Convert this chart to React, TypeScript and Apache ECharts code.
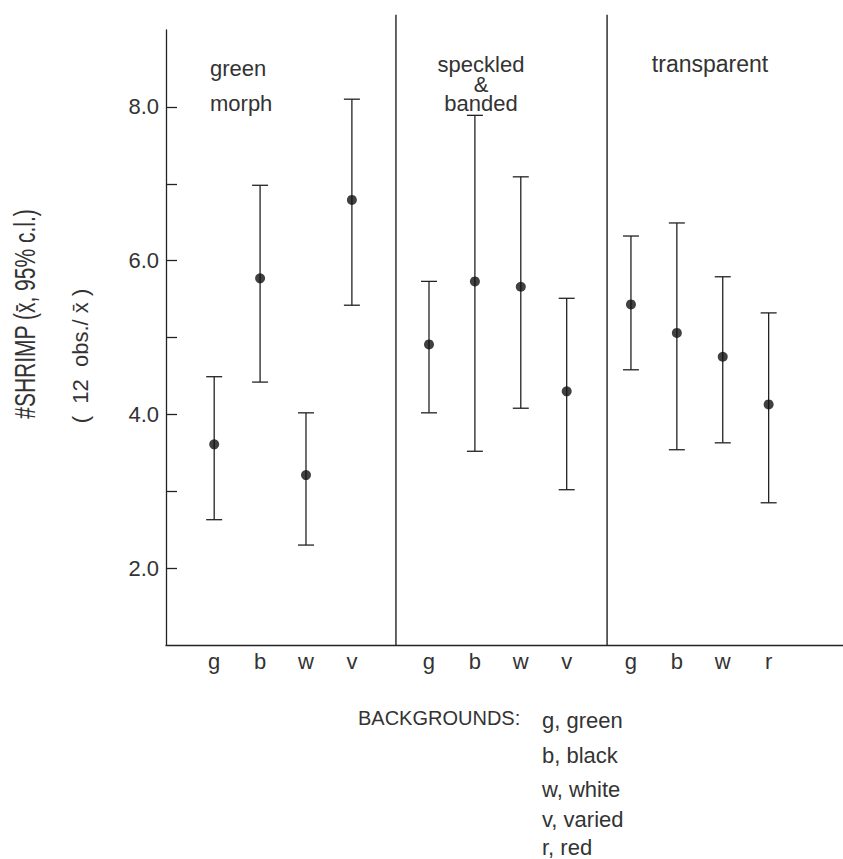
import { useEffect, useRef } from "react";
import * as echarts from "echarts";

// ---- data ----
const groupTitles = ["green\nmorph", "speckled\n&\nbanded", "transparent"];
const backgrounds = [
  ["g", "b", "w", "v"],
  ["g", "b", "w", "v"],
  ["g", "b", "w", "r"],
];
const means = [
  [3.61, 5.77, 3.21, 6.79],
  [4.91, 5.73, 5.66, 4.3],
  [5.43, 5.06, 4.75, 4.13],
];
const lowerCL = [
  [2.63, 4.42, 2.3, 5.42],
  [4.02, 3.52, 4.08, 3.02],
  [4.58, 3.54, 3.63, 2.85],
];
const upperCL = [
  [4.49, 6.98, 4.02, 8.1],
  [5.73, 7.89, 7.09, 5.51],
  [6.32, 6.49, 5.79, 5.32],
];
const yLabelValues = [2, 4, 6, 8];
const yTickValues = [2, 3, 4, 5, 6, 7, 8];
const legendLines = ["g, green", "b, black", "w, white", "v, varied", "r, red"];

// ---- layout constants ----
const groupOffsets = [0, 4.68, 9.08];
const dividerX = [3.96, 8.56];
const FONT = "'Liberation Sans', Arial, sans-serif";
const TXT = "#333";
const INK = "#222";

export default function App() {
  const ref = useRef<HTMLDivElement>(null);
  useEffect(() => {
    if (!ref.current) return;
    const chart = echarts.init(ref.current, undefined, { renderer: "svg" });

    const xs: number[] = [];
    const letterMap: Record<string, string> = {};
    const barData: number[][] = [];
    const pointData: number[][] = [];
    backgrounds.forEach((row, g) => {
      row.forEach((letter, i) => {
        const x = groupOffsets[g] + i;
        xs.push(x);
        letterMap[x.toFixed(3)] = letter;
        barData.push([x, lowerCL[g][i], upperCL[g][i]]);
        pointData.push([x, means[g][i]]);
      });
    });

    const t = (text: string, x: number, y: number, size: number, extra: any = {}, styleExtra: any = {}) => ({
      type: "text",
      x,
      y,
      silent: true,
      ...extra,
      style: {
        text,
        fontSize: size,
        fontFamily: FONT,
        fill: TXT,
        align: extra.align || "left",
        verticalAlign: "middle",
        ...styleExtra,
      },
    });

    const graphics: any[] = [
      t(groupTitles[0], 210, 85.5, 22, {}, { lineHeight: 35 }),
      t(groupTitles[1], 481, 84, 22, { align: "center" }, { lineHeight: 19.5 }),
      t(groupTitles[2], 710, 64, 23, { align: "center" }),
      {
        type: "text",
        x: 25,
        y: 314,
        rotation: Math.PI / 2,
        scaleX: 0.7,
        silent: true,
        style: {
          text: "#SHRIMP (x\u0304, 95% c.l.)",
          fontSize: 30,
          fontFamily: FONT,
          fill: TXT,
          align: "center",
          verticalAlign: "middle",
        },
      },
      {
        type: "text",
        x: 80,
        y: 356,
        rotation: Math.PI / 2,
        silent: true,
        style: {
          text: "(  12  obs./ x\u0304 )",
          fontSize: 22,
          fontFamily: FONT,
          fill: TXT,
          align: "center",
          verticalAlign: "middle",
        },
      },
      t("BACKGROUNDS:", 358, 718, 20),
    ];
    const legendY = [720, 755, 789, 819, 847];
    legendLines.forEach((s, k) => graphics.push(t(s, 542, legendY[k], 22)));

    chart.setOption({
      animation: false,
      backgroundColor: "#fff",
      grid: { left: 166, right: 0, top: 30, bottom: 214 },
      xAxis: {
        type: "value",
        min: -1.05,
        max: 13.7,
        splitLine: { show: false },
        axisTick: { show: false },
        axisLine: { show: true, onZero: false, lineStyle: { color: INK, width: 1.3 } },
        axisLabel: {
          customValues: xs,
          formatter: (v: number) => letterMap[v.toFixed(3)] || "",
          fontSize: 22,
          fontFamily: FONT,
          color: TXT,
          margin: 5,
        },
      },
      yAxis: {
        type: "value",
        min: 1,
        max: 9,
        interval: 1,
        splitLine: { show: false },
        axisLine: { show: true, onZero: false, lineStyle: { color: INK, width: 1.3 } },
        axisTick: {
          show: true,
          inside: true,
          length: 11,
          customValues: yTickValues,
          lineStyle: { color: INK, width: 1.3 },
        },
        axisLabel: {
          customValues: yLabelValues,
          formatter: (v: number) => v.toFixed(1),
          fontSize: 22,
          fontFamily: FONT,
          color: TXT,
          margin: 7,
        },
      },
      graphic: graphics,
      series: [
        {
          type: "custom",
          name: "dividers",
          clip: false,
          silent: true,
          data: dividerX.map((x) => [x, 1, 9.2]),
          encode: { x: 0, y: [1, 2] },
          renderItem: (params: any, api: any) => {
            const p0 = api.coord([api.value(0), api.value(1)]);
            const p1 = api.coord([api.value(0), api.value(2)]);
            return {
              type: "line",
              shape: { x1: p0[0], y1: p0[1], x2: p1[0], y2: p1[1] },
              style: { stroke: INK, lineWidth: 1.4 },
            };
          },
        },
        {
          type: "custom",
          name: "95% c.l.",
          clip: false,
          silent: true,
          data: barData,
          encode: { x: 0, y: [1, 2] },
          renderItem: (params: any, api: any) => {
            const lo = api.coord([api.value(0), api.value(1)]);
            const hi = api.coord([api.value(0), api.value(2)]);
            const hw = 8;
            const st = { stroke: INK, lineWidth: 1.3 };
            return {
              type: "group",
              children: [
                { type: "line", shape: { x1: lo[0], y1: lo[1], x2: hi[0], y2: hi[1] }, style: st },
                { type: "line", shape: { x1: hi[0] - hw, y1: hi[1], x2: hi[0] + hw, y2: hi[1] }, style: st },
                { type: "line", shape: { x1: lo[0] - hw, y1: lo[1], x2: lo[0] + hw, y2: lo[1] }, style: st },
              ],
            };
          },
        },
        {
          type: "scatter",
          name: "mean",
          symbol: "circle",
          symbolSize: 10,
          silent: true,
          itemStyle: { color: "#111" },
          data: pointData,
        },
      ],
    });
    return () => chart.dispose();
  }, []);
  return (
    <div
      ref={ref}
      style={{ position: "fixed", left: 0, top: 0, width: 843, height: 859, background: "#fff" }}
    />
  );
}
